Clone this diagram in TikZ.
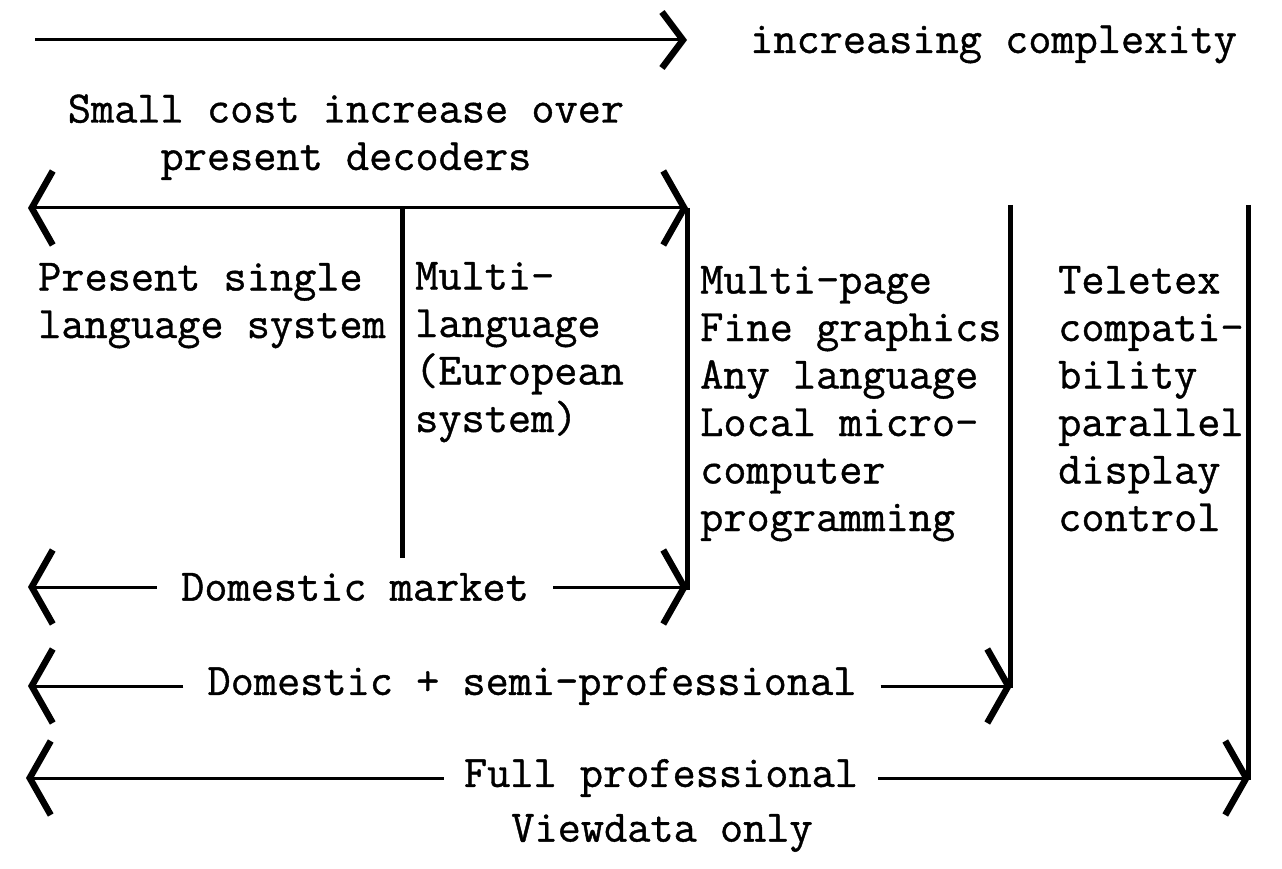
\documentclass[tikz,border=0pt]{standalone}
\usepackage{fontspec}
\setmonofont{Latin Modern Mono}[FakeBold=0.9]
\usepackage{tikz}
\usetikzlibrary{arrows.meta,positioning}

\begin{document}
\begin{tikzpicture}[x=1pt,y=-1pt,
  >={Straight Barb[length=21pt,width=74pt,line width=6.5pt]},
  typed/.style={font=\ttfamily\fontsize{45}{47.5}\selectfont, inner sep=0pt},
  cell/.style={typed, align=left, anchor=base west},
  tag/.style={typed, inner xsep=24pt},
  span/.style={line width=3pt},
  rule/.style={line width=5pt}]
\fill[white] (0,0) rectangle (1282,869);

% growth arrow
\coordinate (grow0) at (35,40);
\coordinate (grow1) at (687,40);
\draw[span, -{Straight Barb[length=21pt,width=56pt,line width=6.5pt]}] (grow0) -- (grow1);
\node[cell] (grow) at (750,53) {increasing complexity};

% cost band (base = last line)
\node[typed, align=center, anchor=base] (cost) at (346,170) {Small cost increase over\\present decoders};
\coordinate (cost0) at (28,208);
\coordinate (cost1) at (688,208);
\draw[span, <->] (cost0) -- (cost1);

% column rules
\coordinate (r1t) at (402,208);  \coordinate (r1b) at (402,558);
\coordinate (r2t) at (687,208);  \coordinate (r2b) at (687,590);
\coordinate (r3t) at (1010,205); \coordinate (r3b) at (1010,688);
\coordinate (r4t) at (1248,205); \coordinate (r4b) at (1248,780);
\draw[rule] (r1t) -- (r1b);
\draw[rule] (r2t) -- (r2b);
\draw[rule] (r3t) -- (r3b);
\draw[rule] (r4t) -- (r4b);

% columns (placed by the baseline of their last line)
\node[cell] (single) at (38,338) {Present single\\language system};
\node[cell] (multi) at (415,432) {Multi-\\language\\(European\\system)};
\node[cell] (page) at (700,531) {Multi-page\\Fine graphics\\Any language\\Local micro-\\computer\\programming};
\node[cell] (telx) at (1058,531) {Teletex\\compati-\\bility\\parallel\\display\\control};

% markets
\coordinate (dom0) at (28,587);
\coordinate (dom1) at (688,587);
\node[tag] (dom) at (355,587) {Domestic market};
\draw[span, ->] (dom) -- (dom0);
\draw[span, ->] (dom) -- (dom1);

\coordinate (semi0) at (28,686);
\coordinate (semi1) at (1012,686);
\node[tag] (semi) at (532,686) {Domestic + semi-professional};
\draw[span, ->] (semi) -- (semi0);
\draw[span, ->] (semi) -- (semi1);

\coordinate (full0) at (26,778);
\coordinate (full1) at (1250,778);
\node[tag, inner xsep=20pt] (full) at (661,778) {Full professional};
\draw[span, ->] (full) -- (full0);
\draw[span, ->] (full) -- (full1);

\node[typed] (view) at (662,833) {Viewdata only};
\end{tikzpicture}
\end{document}
